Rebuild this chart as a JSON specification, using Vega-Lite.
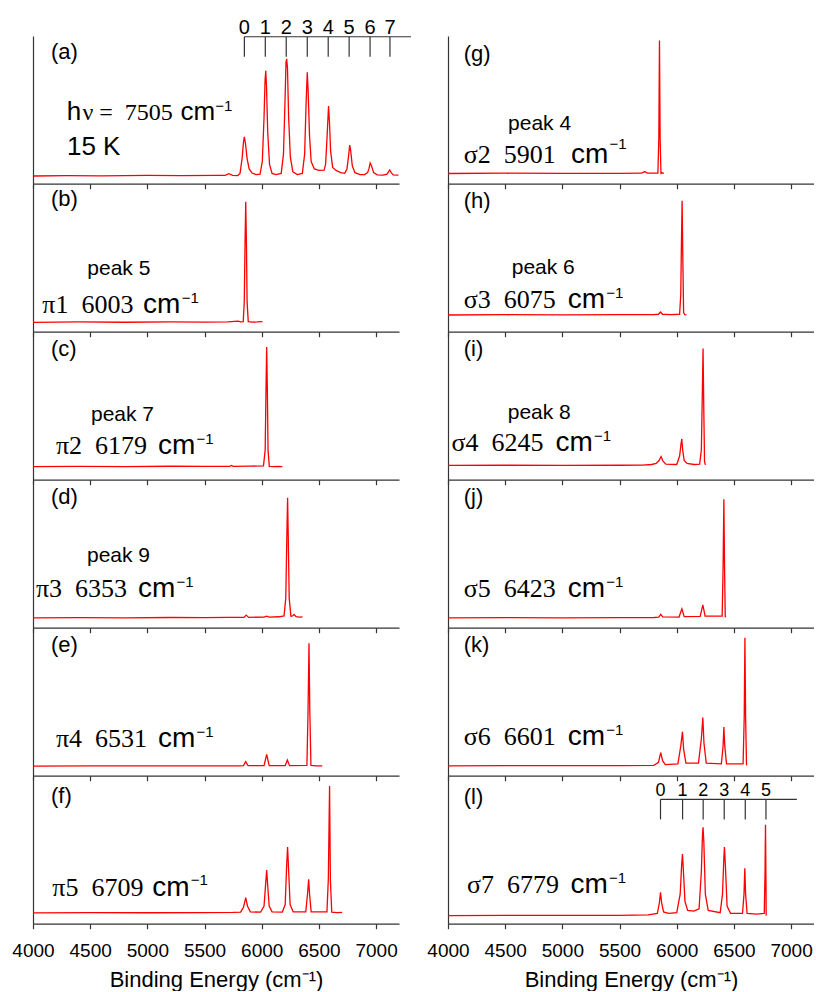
{
"$schema":"https://vega.github.io/schema/vega-lite/v6.json",
"background":"white",
"padding":{"left":11,"top":17,"right":0,"bottom":0},
"columns":2,
"spacing":{"row":0,"column":49},
"bounds":"flush",
"config":{"view":{"stroke":null},"axis":{"domainColor":"#333","domainWidth":1.2,"tickColor":"#333","tickWidth":1.2,"tickSize":5,"grid":false,"labelFont":"Liberation Sans","titleFont":"Liberation Sans","labelColor":"#000","titleColor":"#000","labelFontSize":19,"titleFontSize":22,"titleFontWeight":"normal","labelFlush":false,"labelOverlap":false,"labelPadding":13,"titlePadding":9}},
"datasets":{
"s":[
{"p":"a","x":4000,"y":0.052},{"p":"a","x":4300,"y":0.055},{"p":"a","x":4600,"y":0.053},{"p":"a","x":5000,"y":0.056},{"p":"a","x":5300,"y":0.054},{"p":"a","x":5600,"y":0.056},{"p":"a","x":5680,"y":0.057},{"p":"a","x":5712,"y":0.068},{"p":"a","x":5745,"y":0.057},{"p":"a","x":5790,"y":0.055},{"p":"a","x":5810,"y":0.07},{"p":"a","x":5828,"y":0.17},{"p":"a","x":5840,"y":0.28},{"p":"a","x":5848,"y":0.318},{"p":"a","x":5858,"y":0.27},{"p":"a","x":5872,"y":0.17},{"p":"a","x":5890,"y":0.1},{"p":"a","x":5915,"y":0.072},{"p":"a","x":5950,"y":0.062},{"p":"a","x":5985,"y":0.065},{"p":"a","x":6005,"y":0.15},{"p":"a","x":6020,"y":0.45},{"p":"a","x":6029,"y":0.7},{"p":"a","x":6035,"y":0.765},{"p":"a","x":6042,"y":0.65},{"p":"a","x":6052,"y":0.35},{"p":"a","x":6068,"y":0.13},{"p":"a","x":6090,"y":0.07},{"p":"a","x":6125,"y":0.062},{"p":"a","x":6170,"y":0.07},{"p":"a","x":6190,"y":0.2},{"p":"a","x":6203,"y":0.55},{"p":"a","x":6212,"y":0.82},{"p":"a","x":6218,"y":0.845},{"p":"a","x":6225,"y":0.78},{"p":"a","x":6235,"y":0.45},{"p":"a","x":6250,"y":0.18},{"p":"a","x":6272,"y":0.08},{"p":"a","x":6310,"y":0.062},{"p":"a","x":6355,"y":0.07},{"p":"a","x":6375,"y":0.2},{"p":"a","x":6388,"y":0.55},{"p":"a","x":6398,"y":0.754},{"p":"a","x":6406,"y":0.62},{"p":"a","x":6418,"y":0.32},{"p":"a","x":6432,"y":0.15},{"p":"a","x":6460,"y":0.1},{"p":"a","x":6500,"y":0.09},{"p":"a","x":6545,"y":0.092},{"p":"a","x":6558,"y":0.13},{"p":"a","x":6570,"y":0.3},{"p":"a","x":6584,"y":0.526},{"p":"a","x":6592,"y":0.42},{"p":"a","x":6602,"y":0.22},{"p":"a","x":6620,"y":0.11},{"p":"a","x":6650,"y":0.09},{"p":"a","x":6690,"y":0.075},{"p":"a","x":6725,"y":0.07},{"p":"a","x":6745,"y":0.1},{"p":"a","x":6758,"y":0.18},{"p":"a","x":6769,"y":0.262},{"p":"a","x":6778,"y":0.22},{"p":"a","x":6792,"y":0.12},{"p":"a","x":6815,"y":0.075},{"p":"a","x":6860,"y":0.062},{"p":"a","x":6900,"y":0.062},{"p":"a","x":6925,"y":0.075},{"p":"a","x":6937,"y":0.1},{"p":"a","x":6948,"y":0.14},{"p":"a","x":6960,"y":0.12},{"p":"a","x":6978,"y":0.075},{"p":"a","x":7010,"y":0.06},{"p":"a","x":7060,"y":0.058},{"p":"a","x":7095,"y":0.065},{"p":"a","x":7108,"y":0.08},{"p":"a","x":7119,"y":0.093},{"p":"a","x":7132,"y":0.075},{"p":"a","x":7150,"y":0.06},{"p":"a","x":7195,"y":0.058},
{"p":"b","x":4000,"y":0.063},{"p":"b","x":4400,"y":0.066},{"p":"b","x":4800,"y":0.064},{"p":"b","x":5200,"y":0.066},{"p":"b","x":5500,"y":0.065},{"p":"b","x":5700,"y":0.067},{"p":"b","x":5795,"y":0.072},{"p":"b","x":5815,"y":0.066},{"p":"b","x":5838,"y":0.068},{"p":"b","x":5847,"y":0.2},{"p":"b","x":5854,"y":0.6},{"p":"b","x":5860,"y":0.88},{"p":"b","x":5866,"y":0.6},{"p":"b","x":5872,"y":0.2},{"p":"b","x":5882,"y":0.068},{"p":"b","x":5920,"y":0.065},{"p":"b","x":5960,"y":0.066},{"p":"b","x":6006,"y":0.068},
{"p":"c","x":4000,"y":0.088},{"p":"c","x":4400,"y":0.09},{"p":"c","x":4800,"y":0.089},{"p":"c","x":5200,"y":0.091},{"p":"c","x":5500,"y":0.09},{"p":"c","x":5720,"y":0.09},{"p":"c","x":5735,"y":0.096},{"p":"c","x":5750,"y":0.09},{"p":"c","x":5900,"y":0.092},{"p":"c","x":6015,"y":0.094},{"p":"c","x":6030,"y":0.2},{"p":"c","x":6037,"y":0.6},{"p":"c","x":6043,"y":0.898},{"p":"c","x":6049,"y":0.6},{"p":"c","x":6055,"y":0.2},{"p":"c","x":6066,"y":0.09},{"p":"c","x":6100,"y":0.088},{"p":"c","x":6140,"y":0.09},{"p":"c","x":6180,"y":0.089},
{"p":"d","x":4000,"y":0.066},{"p":"d","x":4400,"y":0.068},{"p":"d","x":4800,"y":0.067},{"p":"d","x":5200,"y":0.069},{"p":"d","x":5500,"y":0.068},{"p":"d","x":5700,"y":0.07},{"p":"d","x":5845,"y":0.07},{"p":"d","x":5864,"y":0.085},{"p":"d","x":5885,"y":0.07},{"p":"d","x":6020,"y":0.072},{"p":"d","x":6043,"y":0.078},{"p":"d","x":6065,"y":0.072},{"p":"d","x":6150,"y":0.074},{"p":"d","x":6195,"y":0.08},{"p":"d","x":6210,"y":0.2},{"p":"d","x":6219,"y":0.6},{"p":"d","x":6226,"y":0.88},{"p":"d","x":6232,"y":0.6},{"p":"d","x":6240,"y":0.2},{"p":"d","x":6255,"y":0.078},{"p":"d","x":6270,"y":0.08},{"p":"d","x":6282,"y":0.09},{"p":"d","x":6300,"y":0.075},{"p":"d","x":6330,"y":0.072},{"p":"d","x":6357,"y":0.073},
{"p":"e","x":4000,"y":0.065},{"p":"e","x":4500,"y":0.067},{"p":"e","x":5000,"y":0.066},{"p":"e","x":5500,"y":0.066},{"p":"e","x":5800,"y":0.067},{"p":"e","x":5840,"y":0.068},{"p":"e","x":5860,"y":0.095},{"p":"e","x":5880,"y":0.068},{"p":"e","x":6020,"y":0.068},{"p":"e","x":6043,"y":0.144},{"p":"e","x":6065,"y":0.068},{"p":"e","x":6205,"y":0.068},{"p":"e","x":6224,"y":0.106},{"p":"e","x":6243,"y":0.068},{"p":"e","x":6395,"y":0.07},{"p":"e","x":6405,"y":0.45},{"p":"e","x":6413,"y":0.896},{"p":"e","x":6420,"y":0.45},{"p":"e","x":6430,"y":0.07},{"p":"e","x":6480,"y":0.066},{"p":"e","x":6529,"y":0.067},
{"p":"f","x":4000,"y":0.073},{"p":"f","x":4500,"y":0.075},{"p":"f","x":5000,"y":0.074},{"p":"f","x":5500,"y":0.075},{"p":"f","x":5750,"y":0.076},{"p":"f","x":5815,"y":0.078},{"p":"f","x":5840,"y":0.11},{"p":"f","x":5860,"y":0.176},{"p":"f","x":5875,"y":0.12},{"p":"f","x":5900,"y":0.08},{"p":"f","x":5990,"y":0.078},{"p":"f","x":6020,"y":0.12},{"p":"f","x":6035,"y":0.28},{"p":"f","x":6043,"y":0.364},{"p":"f","x":6050,"y":0.28},{"p":"f","x":6065,"y":0.12},{"p":"f","x":6090,"y":0.08},{"p":"f","x":6180,"y":0.079},{"p":"f","x":6205,"y":0.13},{"p":"f","x":6218,"y":0.4},{"p":"f","x":6226,"y":0.519},{"p":"f","x":6234,"y":0.38},{"p":"f","x":6248,"y":0.13},{"p":"f","x":6275,"y":0.08},{"p":"f","x":6385,"y":0.08},{"p":"f","x":6400,"y":0.2},{"p":"f","x":6410,"y":0.3},{"p":"f","x":6418,"y":0.2},{"p":"f","x":6432,"y":0.08},{"p":"f","x":6570,"y":0.08},{"p":"f","x":6582,"y":0.3},{"p":"f","x":6593,"y":0.932},{"p":"f","x":6600,"y":0.3},{"p":"f","x":6612,"y":0.078},{"p":"f","x":6660,"y":0.075},{"p":"f","x":6703,"y":0.077},
{"p":"g","x":4000,"y":0.069},{"p":"g","x":4500,"y":0.071},{"p":"g","x":5000,"y":0.07},{"p":"g","x":5500,"y":0.07},{"p":"g","x":5690,"y":0.071},{"p":"g","x":5720,"y":0.082},{"p":"g","x":5745,"y":0.071},{"p":"g","x":5835,"y":0.071},{"p":"g","x":5843,"y":0.3},{"p":"g","x":5849,"y":0.97},{"p":"g","x":5855,"y":0.3},{"p":"g","x":5862,"y":0.07},{"p":"g","x":5872,"y":0.074},{"p":"g","x":5887,"y":0.07},
{"p":"h","x":4000,"y":0.113},{"p":"h","x":4500,"y":0.115},{"p":"h","x":5000,"y":0.114},{"p":"h","x":5500,"y":0.115},{"p":"h","x":5800,"y":0.116},{"p":"h","x":5840,"y":0.118},{"p":"h","x":5858,"y":0.133},{"p":"h","x":5875,"y":0.118},{"p":"h","x":5950,"y":0.116},{"p":"h","x":6025,"y":0.118},{"p":"h","x":6035,"y":0.25},{"p":"h","x":6041,"y":0.6},{"p":"h","x":6047,"y":0.887},{"p":"h","x":6053,"y":0.5},{"p":"h","x":6060,"y":0.13},{"p":"h","x":6070,"y":0.115},{"p":"h","x":6085,"y":0.114},
{"p":"i","x":4000,"y":0.097},{"p":"i","x":4500,"y":0.098},{"p":"i","x":5000,"y":0.097},{"p":"i","x":5500,"y":0.098},{"p":"i","x":5700,"y":0.099},{"p":"i","x":5780,"y":0.103},{"p":"i","x":5820,"y":0.11},{"p":"i","x":5845,"y":0.13},{"p":"i","x":5863,"y":0.157},{"p":"i","x":5880,"y":0.125},{"p":"i","x":5905,"y":0.105},{"p":"i","x":6000,"y":0.103},{"p":"i","x":6025,"y":0.16},{"p":"i","x":6037,"y":0.24},{"p":"i","x":6044,"y":0.276},{"p":"i","x":6052,"y":0.2},{"p":"i","x":6065,"y":0.13},{"p":"i","x":6090,"y":0.11},{"p":"i","x":6150,"y":0.103},{"p":"i","x":6200,"y":0.105},{"p":"i","x":6215,"y":0.2},{"p":"i","x":6224,"y":0.6},{"p":"i","x":6230,"y":0.888},{"p":"i","x":6236,"y":0.5},{"p":"i","x":6243,"y":0.12},{"p":"i","x":6251,"y":0.1},
{"p":"j","x":4000,"y":0.067},{"p":"j","x":4500,"y":0.068},{"p":"j","x":5000,"y":0.067},{"p":"j","x":5500,"y":0.068},{"p":"j","x":5800,"y":0.069},{"p":"j","x":5843,"y":0.072},{"p":"j","x":5860,"y":0.09},{"p":"j","x":5877,"y":0.073},{"p":"j","x":6020,"y":0.072},{"p":"j","x":6045,"y":0.128},{"p":"j","x":6065,"y":0.075},{"p":"j","x":6205,"y":0.076},{"p":"j","x":6228,"y":0.155},{"p":"j","x":6248,"y":0.078},{"p":"j","x":6397,"y":0.078},{"p":"j","x":6405,"y":0.4},{"p":"j","x":6412,"y":0.87},{"p":"j","x":6418,"y":0.4},{"p":"j","x":6424,"y":0.075},{"p":"j","x":6430,"y":0.072},
{"p":"k","x":4000,"y":0.067},{"p":"k","x":4500,"y":0.068},{"p":"k","x":5000,"y":0.068},{"p":"k","x":5500,"y":0.068},{"p":"k","x":5800,"y":0.07},{"p":"k","x":5840,"y":0.09},{"p":"k","x":5860,"y":0.156},{"p":"k","x":5877,"y":0.1},{"p":"k","x":5900,"y":0.075},{"p":"k","x":6010,"y":0.08},{"p":"k","x":6035,"y":0.2},{"p":"k","x":6050,"y":0.298},{"p":"k","x":6060,"y":0.18},{"p":"k","x":6080,"y":0.085},{"p":"k","x":6190,"y":0.085},{"p":"k","x":6215,"y":0.25},{"p":"k","x":6228,"y":0.393},{"p":"k","x":6238,"y":0.22},{"p":"k","x":6258,"y":0.085},{"p":"k","x":6390,"y":0.08},{"p":"k","x":6405,"y":0.2},{"p":"k","x":6412,"y":0.33},{"p":"k","x":6420,"y":0.2},{"p":"k","x":6435,"y":0.08},{"p":"k","x":6580,"y":0.08},{"p":"k","x":6590,"y":0.4},{"p":"k","x":6596,"y":0.934},{"p":"k","x":6602,"y":0.4},{"p":"k","x":6610,"y":0.075},{"p":"k","x":6615,"y":0.074},
{"p":"l","x":4000,"y":0.055},{"p":"l","x":4500,"y":0.057},{"p":"l","x":5000,"y":0.056},{"p":"l","x":5500,"y":0.057},{"p":"l","x":5750,"y":0.06},{"p":"l","x":5830,"y":0.07},{"p":"l","x":5848,"y":0.14},{"p":"l","x":5858,"y":0.212},{"p":"l","x":5868,"y":0.14},{"p":"l","x":5885,"y":0.08},{"p":"l","x":5930,"y":0.07},{"p":"l","x":6000,"y":0.075},{"p":"l","x":6030,"y":0.2},{"p":"l","x":6043,"y":0.4},{"p":"l","x":6050,"y":0.471},{"p":"l","x":6058,"y":0.36},{"p":"l","x":6072,"y":0.15},{"p":"l","x":6095,"y":0.09},{"p":"l","x":6150,"y":0.085},{"p":"l","x":6195,"y":0.1},{"p":"l","x":6215,"y":0.35},{"p":"l","x":6225,"y":0.6},{"p":"l","x":6230,"y":0.652},{"p":"l","x":6237,"y":0.55},{"p":"l","x":6250,"y":0.2},{"p":"l","x":6275,"y":0.09},{"p":"l","x":6380,"y":0.075},{"p":"l","x":6400,"y":0.2},{"p":"l","x":6412,"y":0.45},{"p":"l","x":6417,"y":0.519},{"p":"l","x":6425,"y":0.4},{"p":"l","x":6440,"y":0.12},{"p":"l","x":6470,"y":0.07},{"p":"l","x":6575,"y":0.07},{"p":"l","x":6588,"y":0.2},{"p":"l","x":6595,"y":0.376},{"p":"l","x":6602,"y":0.2},{"p":"l","x":6615,"y":0.07},{"p":"l","x":6700,"y":0.065},{"p":"l","x":6765,"y":0.07},{"p":"l","x":6772,"y":0.35},{"p":"l","x":6776,"y":0.67},{"p":"l","x":6780,"y":0.3},{"p":"l","x":6782,"y":0.058},{"p":"l","x":6785,"y":0.058}
],
"t":[
{"p":"a","k":"lbl","t":"(a)","x":4157,"y":0.842},{"p":"a","k":"mainA","t":"h","x":4295,"y":0.433},{"p":"a","k":"serA","t":"ν = \u00a07505","x":4432,"y":0.433},{"p":"a","k":"mainA","t":"cm","x":5290,"y":0.433},{"p":"a","k":"sup","t":"−1","x":5594,"y":0.494},{"p":"a","k":"mainA","t":"15 K","x":4297,"y":0.196},
{"p":"b","k":"lbl","t":"(b)","x":4157,"y":0.848},{"p":"b","k":"peak","t":"peak 5","x":4475,"y":0.381},{"p":"b","k":"ser","t":"π1\u00a0\u00a06003","x":4081,"y":0.124},{"p":"b","k":"main","t":"cm","x":4962,"y":0.124},{"p":"b","k":"sup","t":"−1","x":5300,"y":0.192},
{"p":"c","k":"lbl","t":"(c)","x":4157,"y":0.835},{"p":"c","k":"peak","t":"peak 7","x":4507,"y":0.395},{"p":"c","k":"ser","t":"π2\u00a0\u00a06179","x":4201,"y":0.171},{"p":"c","k":"main","t":"cm","x":5093,"y":0.171},{"p":"c","k":"sup","t":"−1","x":5430,"y":0.239},
{"p":"d","k":"lbl","t":"(d)","x":4157,"y":0.835},{"p":"d","k":"peak","t":"peak 9","x":4472,"y":0.445},{"p":"d","k":"ser","t":"π3\u00a0\u00a06353","x":4026,"y":0.207},{"p":"d","k":"main","t":"cm","x":4918,"y":0.207},{"p":"d","k":"sup","t":"−1","x":5255,"y":0.275},
{"p":"e","k":"lbl","t":"(e)","x":4157,"y":0.835},{"p":"e","k":"ser","t":"π4\u00a0\u00a06531","x":4201,"y":0.196},{"p":"e","k":"main","t":"cm","x":5093,"y":0.196},{"p":"e","k":"sup","t":"−1","x":5430,"y":0.264},
{"p":"f","k":"lbl","t":"(f)","x":4157,"y":0.815},{"p":"f","k":"ser","t":"π5\u00a0\u00a06709","x":4169,"y":0.188},{"p":"f","k":"main","t":"cm","x":5043,"y":0.188},{"p":"f","k":"sup","t":"−1","x":5380,"y":0.262},
{"p":"g","k":"lbl","t":"(g)","x":4137,"y":0.833},{"p":"g","k":"peak","t":"peak 4","x":4525,"y":0.362},{"p":"g","k":"ser","t":"σ2\u00a0\u00a05901","x":4137,"y":0.138},{"p":"g","k":"main","t":"cm","x":5075,"y":0.138},{"p":"g","k":"sup","t":"−1","x":5412,"y":0.233},
{"p":"h","k":"lbl","t":"(h)","x":4137,"y":0.835},{"p":"h","k":"peak","t":"peak 6","x":4557,"y":0.393},{"p":"h","k":"ser","t":"σ3\u00a0\u00a06075","x":4137,"y":0.162},{"p":"h","k":"main","t":"cm","x":5046,"y":0.162},{"p":"h","k":"sup","t":"−1","x":5383,"y":0.23},
{"p":"i","k":"lbl","t":"(i)","x":4137,"y":0.835},{"p":"i","k":"peak","t":"peak 8","x":4522,"y":0.41},{"p":"i","k":"ser","t":"σ4\u00a0\u00a06245","x":4031,"y":0.193},{"p":"i","k":"main","t":"cm","x":4940,"y":0.193},{"p":"i","k":"sup","t":"−1","x":5277,"y":0.261},
{"p":"j","k":"lbl","t":"(j)","x":4137,"y":0.835},{"p":"j","k":"ser","t":"σ5\u00a0\u00a06423","x":4137,"y":0.21},{"p":"j","k":"main","t":"cm","x":5046,"y":0.21},{"p":"j","k":"sup","t":"−1","x":5383,"y":0.278},
{"p":"k","k":"lbl","t":"(k)","x":4137,"y":0.835},{"p":"k","k":"ser","t":"σ6\u00a0\u00a06601","x":4137,"y":0.21},{"p":"k","k":"main","t":"cm","x":5046,"y":0.21},{"p":"k","k":"sup","t":"−1","x":5383,"y":0.278},
{"p":"l","k":"lbl","t":"(l)","x":4137,"y":0.813},{"p":"l","k":"ser","t":"σ7\u00a0\u00a06779","x":4166,"y":0.207},{"p":"l","k":"main","t":"cm","x":5070,"y":0.207},{"p":"l","k":"sup","t":"−1","x":5407,"y":0.275}
],
"cb":[
{"p":"a","n":"0","x":5848},{"p":"a","n":"1","x":6031},{"p":"a","n":"2","x":6214},{"p":"a","n":"3","x":6398},{"p":"a","n":"4","x":6581},{"p":"a","n":"5","x":6764},{"p":"a","n":"6","x":6947},{"p":"a","n":"7","x":7121},
{"p":"l","n":"0","x":5858},{"p":"l","n":"1","x":6051},{"p":"l","n":"2","x":6231},{"p":"l","n":"3","x":6415},{"p":"l","n":"4","x":6599},{"p":"l","n":"5","x":6780}
]
},
"concat":[
{"width":366,"height":147.7,"layer":[
 {"data":{"name":"s"},"transform":[{"filter":"datum.p=='a'"}],"mark":{"type":"line","color":"#ff0000","strokeWidth":1.3},"encoding":{"x":{"field":"x","type":"quantitative","scale":{"domain":[4000,7200],"nice":false,"zero":false},"axis":{"values":[4000,4250,4500,4750,5000,5250,5500,5750,6000,6250,6500,6750,7000],"labels":false,"title":null}},"y":{"field":"y","type":"quantitative","scale":{"domain":[0,1],"nice":false},"axis":{"ticks":false,"labels":false,"title":null}}}},
 {"data":{"name":"t"},"transform":[{"filter":"datum.p=='a'"}],"mark":{"type":"text","align":"left","baseline":"alphabetic","font":{"expr":"(datum.k=='ser'||datum.k=='serA')?'Liberation Serif':'Liberation Sans'"},"fontSize":{"expr":"datum.k=='sup'?15:datum.k=='peak'?21:datum.k=='lbl'?22:datum.k=='serA'?24:datum.k=='mainA'?26:datum.k=='ser'?26:28"}},"encoding":{"x":{"field":"x","type":"quantitative","scale":{"domain":[4000,7200],"nice":false,"zero":false}},"y":{"field":"y","type":"quantitative","scale":{"domain":[0,1],"nice":false}},"text":{"field":"t"}}},
 {"data":{"name":"cb"},"transform":[{"filter":"datum.p=='a'"}],"mark":{"type":"rule","color":"#333","strokeWidth":1.2},"encoding":{"x":{"field":"x","type":"quantitative","scale":{"domain":[4000,7200],"nice":false,"zero":false}},"y":{"datum":0.995,"type":"quantitative","scale":{"domain":[0,1],"nice":false}},"y2":{"datum":0.86}}},
 {"data":{"values":[{}]},"mark":{"type":"rule","color":"#333","strokeWidth":1.2},"encoding":{"x":{"datum":5848,"type":"quantitative","scale":{"domain":[4000,7200],"nice":false,"zero":false}},"x2":{"datum":7305},"y":{"datum":0.995,"type":"quantitative","scale":{"domain":[0,1],"nice":false}}}},
 {"data":{"name":"cb"},"transform":[{"filter":"datum.p=='a'"}],"mark":{"type":"text","align":"center","baseline":"alphabetic","fontSize":20,"font":"Liberation Sans"},"encoding":{"x":{"field":"x","type":"quantitative","scale":{"domain":[4000,7200],"nice":false,"zero":false}},"y":{"datum":1.016,"type":"quantitative","scale":{"domain":[0,1],"nice":false}},"text":{"field":"n"}}}
]},
{"width":366,"height":147.7,"layer":[
 {"data":{"name":"s"},"transform":[{"filter":"datum.p=='g'"}],"mark":{"type":"line","color":"#ff0000","strokeWidth":1.3},"encoding":{"x":{"field":"x","type":"quantitative","scale":{"domain":[4000,7200],"nice":false,"zero":false},"axis":{"values":[4000,4250,4500,4750,5000,5250,5500,5750,6000,6250,6500,6750,7000],"labels":false,"title":null}},"y":{"field":"y","type":"quantitative","scale":{"domain":[0,1],"nice":false},"axis":{"ticks":false,"labels":false,"title":null}}}},
 {"data":{"name":"t"},"transform":[{"filter":"datum.p=='g'"}],"mark":{"type":"text","align":"left","baseline":"alphabetic","font":{"expr":"(datum.k=='ser'||datum.k=='serA')?'Liberation Serif':'Liberation Sans'"},"fontSize":{"expr":"datum.k=='sup'?15:datum.k=='peak'?21:datum.k=='lbl'?22:datum.k=='serA'?24:datum.k=='mainA'?26:datum.k=='ser'?26:28"}},"encoding":{"x":{"field":"x","type":"quantitative","scale":{"domain":[4000,7200],"nice":false,"zero":false}},"y":{"field":"y","type":"quantitative","scale":{"domain":[0,1],"nice":false}},"text":{"field":"t"}}}
]},
{"width":366,"height":147.7,"layer":[
 {"data":{"name":"s"},"transform":[{"filter":"datum.p=='b'"}],"mark":{"type":"line","color":"#ff0000","strokeWidth":1.3},"encoding":{"x":{"field":"x","type":"quantitative","scale":{"domain":[4000,7200],"nice":false,"zero":false},"axis":{"values":[4000,4250,4500,4750,5000,5250,5500,5750,6000,6250,6500,6750,7000],"labels":false,"title":null}},"y":{"field":"y","type":"quantitative","scale":{"domain":[0,1],"nice":false},"axis":{"ticks":false,"labels":false,"title":null}}}},
 {"data":{"name":"t"},"transform":[{"filter":"datum.p=='b'"}],"mark":{"type":"text","align":"left","baseline":"alphabetic","font":{"expr":"(datum.k=='ser'||datum.k=='serA')?'Liberation Serif':'Liberation Sans'"},"fontSize":{"expr":"datum.k=='sup'?15:datum.k=='peak'?21:datum.k=='lbl'?22:datum.k=='serA'?24:datum.k=='mainA'?26:datum.k=='ser'?26:28"}},"encoding":{"x":{"field":"x","type":"quantitative","scale":{"domain":[4000,7200],"nice":false,"zero":false}},"y":{"field":"y","type":"quantitative","scale":{"domain":[0,1],"nice":false}},"text":{"field":"t"}}}
]},
{"width":366,"height":147.7,"layer":[
 {"data":{"name":"s"},"transform":[{"filter":"datum.p=='h'"}],"mark":{"type":"line","color":"#ff0000","strokeWidth":1.3},"encoding":{"x":{"field":"x","type":"quantitative","scale":{"domain":[4000,7200],"nice":false,"zero":false},"axis":{"values":[4000,4250,4500,4750,5000,5250,5500,5750,6000,6250,6500,6750,7000],"labels":false,"title":null}},"y":{"field":"y","type":"quantitative","scale":{"domain":[0,1],"nice":false},"axis":{"ticks":false,"labels":false,"title":null}}}},
 {"data":{"name":"t"},"transform":[{"filter":"datum.p=='h'"}],"mark":{"type":"text","align":"left","baseline":"alphabetic","font":{"expr":"(datum.k=='ser'||datum.k=='serA')?'Liberation Serif':'Liberation Sans'"},"fontSize":{"expr":"datum.k=='sup'?15:datum.k=='peak'?21:datum.k=='lbl'?22:datum.k=='serA'?24:datum.k=='mainA'?26:datum.k=='ser'?26:28"}},"encoding":{"x":{"field":"x","type":"quantitative","scale":{"domain":[4000,7200],"nice":false,"zero":false}},"y":{"field":"y","type":"quantitative","scale":{"domain":[0,1],"nice":false}},"text":{"field":"t"}}}
]},
{"width":366,"height":147.7,"layer":[
 {"data":{"name":"s"},"transform":[{"filter":"datum.p=='c'"}],"mark":{"type":"line","color":"#ff0000","strokeWidth":1.3},"encoding":{"x":{"field":"x","type":"quantitative","scale":{"domain":[4000,7200],"nice":false,"zero":false},"axis":{"values":[4000,4250,4500,4750,5000,5250,5500,5750,6000,6250,6500,6750,7000],"labels":false,"title":null}},"y":{"field":"y","type":"quantitative","scale":{"domain":[0,1],"nice":false},"axis":{"ticks":false,"labels":false,"title":null}}}},
 {"data":{"name":"t"},"transform":[{"filter":"datum.p=='c'"}],"mark":{"type":"text","align":"left","baseline":"alphabetic","font":{"expr":"(datum.k=='ser'||datum.k=='serA')?'Liberation Serif':'Liberation Sans'"},"fontSize":{"expr":"datum.k=='sup'?15:datum.k=='peak'?21:datum.k=='lbl'?22:datum.k=='serA'?24:datum.k=='mainA'?26:datum.k=='ser'?26:28"}},"encoding":{"x":{"field":"x","type":"quantitative","scale":{"domain":[4000,7200],"nice":false,"zero":false}},"y":{"field":"y","type":"quantitative","scale":{"domain":[0,1],"nice":false}},"text":{"field":"t"}}}
]},
{"width":366,"height":147.7,"layer":[
 {"data":{"name":"s"},"transform":[{"filter":"datum.p=='i'"}],"mark":{"type":"line","color":"#ff0000","strokeWidth":1.3},"encoding":{"x":{"field":"x","type":"quantitative","scale":{"domain":[4000,7200],"nice":false,"zero":false},"axis":{"values":[4000,4250,4500,4750,5000,5250,5500,5750,6000,6250,6500,6750,7000],"labels":false,"title":null}},"y":{"field":"y","type":"quantitative","scale":{"domain":[0,1],"nice":false},"axis":{"ticks":false,"labels":false,"title":null}}}},
 {"data":{"name":"t"},"transform":[{"filter":"datum.p=='i'"}],"mark":{"type":"text","align":"left","baseline":"alphabetic","font":{"expr":"(datum.k=='ser'||datum.k=='serA')?'Liberation Serif':'Liberation Sans'"},"fontSize":{"expr":"datum.k=='sup'?15:datum.k=='peak'?21:datum.k=='lbl'?22:datum.k=='serA'?24:datum.k=='mainA'?26:datum.k=='ser'?26:28"}},"encoding":{"x":{"field":"x","type":"quantitative","scale":{"domain":[4000,7200],"nice":false,"zero":false}},"y":{"field":"y","type":"quantitative","scale":{"domain":[0,1],"nice":false}},"text":{"field":"t"}}}
]},
{"width":366,"height":147.7,"layer":[
 {"data":{"name":"s"},"transform":[{"filter":"datum.p=='d'"}],"mark":{"type":"line","color":"#ff0000","strokeWidth":1.3},"encoding":{"x":{"field":"x","type":"quantitative","scale":{"domain":[4000,7200],"nice":false,"zero":false},"axis":{"values":[4000,4250,4500,4750,5000,5250,5500,5750,6000,6250,6500,6750,7000],"labels":false,"title":null}},"y":{"field":"y","type":"quantitative","scale":{"domain":[0,1],"nice":false},"axis":{"ticks":false,"labels":false,"title":null}}}},
 {"data":{"name":"t"},"transform":[{"filter":"datum.p=='d'"}],"mark":{"type":"text","align":"left","baseline":"alphabetic","font":{"expr":"(datum.k=='ser'||datum.k=='serA')?'Liberation Serif':'Liberation Sans'"},"fontSize":{"expr":"datum.k=='sup'?15:datum.k=='peak'?21:datum.k=='lbl'?22:datum.k=='serA'?24:datum.k=='mainA'?26:datum.k=='ser'?26:28"}},"encoding":{"x":{"field":"x","type":"quantitative","scale":{"domain":[4000,7200],"nice":false,"zero":false}},"y":{"field":"y","type":"quantitative","scale":{"domain":[0,1],"nice":false}},"text":{"field":"t"}}}
]},
{"width":366,"height":147.7,"layer":[
 {"data":{"name":"s"},"transform":[{"filter":"datum.p=='j'"}],"mark":{"type":"line","color":"#ff0000","strokeWidth":1.3},"encoding":{"x":{"field":"x","type":"quantitative","scale":{"domain":[4000,7200],"nice":false,"zero":false},"axis":{"values":[4000,4250,4500,4750,5000,5250,5500,5750,6000,6250,6500,6750,7000],"labels":false,"title":null}},"y":{"field":"y","type":"quantitative","scale":{"domain":[0,1],"nice":false},"axis":{"ticks":false,"labels":false,"title":null}}}},
 {"data":{"name":"t"},"transform":[{"filter":"datum.p=='j'"}],"mark":{"type":"text","align":"left","baseline":"alphabetic","font":{"expr":"(datum.k=='ser'||datum.k=='serA')?'Liberation Serif':'Liberation Sans'"},"fontSize":{"expr":"datum.k=='sup'?15:datum.k=='peak'?21:datum.k=='lbl'?22:datum.k=='serA'?24:datum.k=='mainA'?26:datum.k=='ser'?26:28"}},"encoding":{"x":{"field":"x","type":"quantitative","scale":{"domain":[4000,7200],"nice":false,"zero":false}},"y":{"field":"y","type":"quantitative","scale":{"domain":[0,1],"nice":false}},"text":{"field":"t"}}}
]},
{"width":366,"height":147.7,"layer":[
 {"data":{"name":"s"},"transform":[{"filter":"datum.p=='e'"}],"mark":{"type":"line","color":"#ff0000","strokeWidth":1.3},"encoding":{"x":{"field":"x","type":"quantitative","scale":{"domain":[4000,7200],"nice":false,"zero":false},"axis":{"values":[4000,4250,4500,4750,5000,5250,5500,5750,6000,6250,6500,6750,7000],"labels":false,"title":null}},"y":{"field":"y","type":"quantitative","scale":{"domain":[0,1],"nice":false},"axis":{"ticks":false,"labels":false,"title":null}}}},
 {"data":{"name":"t"},"transform":[{"filter":"datum.p=='e'"}],"mark":{"type":"text","align":"left","baseline":"alphabetic","font":{"expr":"(datum.k=='ser'||datum.k=='serA')?'Liberation Serif':'Liberation Sans'"},"fontSize":{"expr":"datum.k=='sup'?15:datum.k=='peak'?21:datum.k=='lbl'?22:datum.k=='serA'?24:datum.k=='mainA'?26:datum.k=='ser'?26:28"}},"encoding":{"x":{"field":"x","type":"quantitative","scale":{"domain":[4000,7200],"nice":false,"zero":false}},"y":{"field":"y","type":"quantitative","scale":{"domain":[0,1],"nice":false}},"text":{"field":"t"}}}
]},
{"width":366,"height":147.7,"layer":[
 {"data":{"name":"s"},"transform":[{"filter":"datum.p=='k'"}],"mark":{"type":"line","color":"#ff0000","strokeWidth":1.3},"encoding":{"x":{"field":"x","type":"quantitative","scale":{"domain":[4000,7200],"nice":false,"zero":false},"axis":{"values":[4000,4250,4500,4750,5000,5250,5500,5750,6000,6250,6500,6750,7000],"labels":false,"title":null}},"y":{"field":"y","type":"quantitative","scale":{"domain":[0,1],"nice":false},"axis":{"ticks":false,"labels":false,"title":null}}}},
 {"data":{"name":"t"},"transform":[{"filter":"datum.p=='k'"}],"mark":{"type":"text","align":"left","baseline":"alphabetic","font":{"expr":"(datum.k=='ser'||datum.k=='serA')?'Liberation Serif':'Liberation Sans'"},"fontSize":{"expr":"datum.k=='sup'?15:datum.k=='peak'?21:datum.k=='lbl'?22:datum.k=='serA'?24:datum.k=='mainA'?26:datum.k=='ser'?26:28"}},"encoding":{"x":{"field":"x","type":"quantitative","scale":{"domain":[4000,7200],"nice":false,"zero":false}},"y":{"field":"y","type":"quantitative","scale":{"domain":[0,1],"nice":false}},"text":{"field":"t"}}}
]},
{"width":366,"height":147.7,"layer":[
 {"data":{"name":"s"},"transform":[{"filter":"datum.p=='f'"}],"mark":{"type":"line","color":"#ff0000","strokeWidth":1.3},"encoding":{"x":{"field":"x","type":"quantitative","scale":{"domain":[4000,7200],"nice":false,"zero":false},"axis":{"values":[4000,4250,4500,4750,5000,5250,5500,5750,6000,6250,6500,6750,7000],"format":"d","labelExpr":"datum.value % 500 === 0 ? datum.label : ''","title":"Binding Energy (cm⁻¹)"}},"y":{"field":"y","type":"quantitative","scale":{"domain":[0,1],"nice":false},"axis":{"ticks":false,"labels":false,"title":null}}}},
 {"data":{"name":"t"},"transform":[{"filter":"datum.p=='f'"}],"mark":{"type":"text","align":"left","baseline":"alphabetic","font":{"expr":"(datum.k=='ser'||datum.k=='serA')?'Liberation Serif':'Liberation Sans'"},"fontSize":{"expr":"datum.k=='sup'?15:datum.k=='peak'?21:datum.k=='lbl'?22:datum.k=='serA'?24:datum.k=='mainA'?26:datum.k=='ser'?26:28"}},"encoding":{"x":{"field":"x","type":"quantitative","scale":{"domain":[4000,7200],"nice":false,"zero":false}},"y":{"field":"y","type":"quantitative","scale":{"domain":[0,1],"nice":false}},"text":{"field":"t"}}}
]},
{"width":366,"height":147.7,"layer":[
 {"data":{"name":"s"},"transform":[{"filter":"datum.p=='l'"}],"mark":{"type":"line","color":"#ff0000","strokeWidth":1.3},"encoding":{"x":{"field":"x","type":"quantitative","scale":{"domain":[4000,7200],"nice":false,"zero":false},"axis":{"values":[4000,4250,4500,4750,5000,5250,5500,5750,6000,6250,6500,6750,7000],"format":"d","labelExpr":"datum.value % 500 === 0 ? datum.label : ''","title":"Binding Energy (cm⁻¹)"}},"y":{"field":"y","type":"quantitative","scale":{"domain":[0,1],"nice":false},"axis":{"ticks":false,"labels":false,"title":null}}}},
 {"data":{"name":"t"},"transform":[{"filter":"datum.p=='l'"}],"mark":{"type":"text","align":"left","baseline":"alphabetic","font":{"expr":"(datum.k=='ser'||datum.k=='serA')?'Liberation Serif':'Liberation Sans'"},"fontSize":{"expr":"datum.k=='sup'?15:datum.k=='peak'?21:datum.k=='lbl'?22:datum.k=='serA'?24:datum.k=='mainA'?26:datum.k=='ser'?26:28"}},"encoding":{"x":{"field":"x","type":"quantitative","scale":{"domain":[4000,7200],"nice":false,"zero":false}},"y":{"field":"y","type":"quantitative","scale":{"domain":[0,1],"nice":false}},"text":{"field":"t"}}},
 {"data":{"name":"cb"},"transform":[{"filter":"datum.p=='l'"}],"mark":{"type":"rule","color":"#333","strokeWidth":1.2},"encoding":{"x":{"field":"x","type":"quantitative","scale":{"domain":[4000,7200],"nice":false,"zero":false}},"y":{"datum":0.842,"type":"quantitative","scale":{"domain":[0,1],"nice":false}},"y2":{"datum":0.706}}},
 {"data":{"values":[{}]},"mark":{"type":"rule","color":"#333","strokeWidth":1.2},"encoding":{"x":{"datum":5858,"type":"quantitative","scale":{"domain":[4000,7200],"nice":false,"zero":false}},"x2":{"datum":7050},"y":{"datum":0.842,"type":"quantitative","scale":{"domain":[0,1],"nice":false}}}},
 {"data":{"name":"cb"},"transform":[{"filter":"datum.p=='l'"}],"mark":{"type":"text","align":"center","baseline":"alphabetic","fontSize":18,"font":"Liberation Sans"},"encoding":{"x":{"field":"x","type":"quantitative","scale":{"domain":[4000,7200],"nice":false,"zero":false}},"y":{"datum":0.862,"type":"quantitative","scale":{"domain":[0,1],"nice":false}},"text":{"field":"n"}}}
]}
]
}
